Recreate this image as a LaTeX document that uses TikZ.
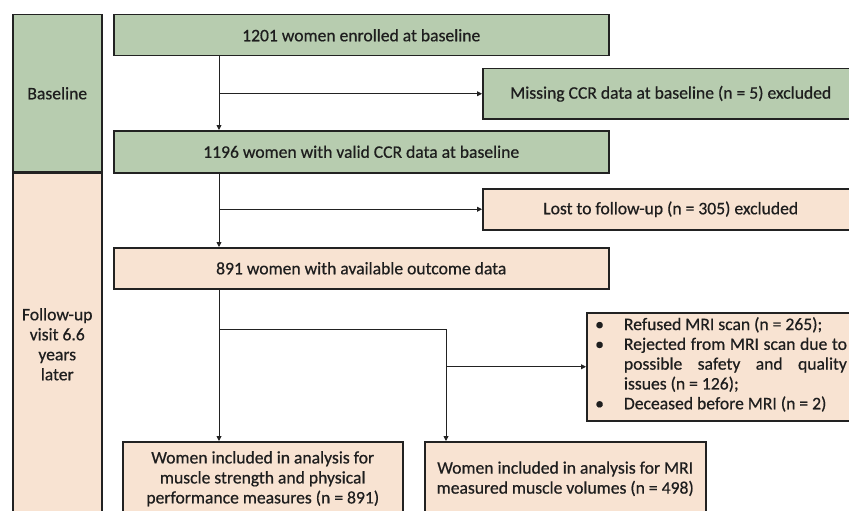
\documentclass[tikz,border=0pt]{standalone}
\usepackage{fontspec}
\setmainfont{Carlito}[FakeBold=0.6]
\usetikzlibrary{arrows.meta}
\definecolor{boxgreen}{HTML}{B7CCAF}
\definecolor{boxpeach}{HTML}{F8E3D2}
\definecolor{edge}{HTML}{222222}
\definecolor{txt}{HTML}{1E1E1E}
\tikzset{
  box/.style={draw=edge, line width=1.5pt, inner sep=0pt, anchor=north west, align=center,
    text=txt, font=\fontsize{17.6}{20}\selectfont},
  gbox/.style={box, fill=boxgreen},
  pbox/.style={box, fill=boxpeach},
  conn/.style={draw=edge, line width=0.9pt},
  arr/.style={conn, -{Triangle[length=5pt,width=5pt]}},
}
\begin{document}
\begin{tikzpicture}[x=1pt,y=-1pt]
\useasboundingbox (0,0) rectangle (849,511);
\clip (0,0) rectangle (849,511);
% left column
\node[gbox, minimum width=89pt, minimum height=157pt] (base) at (12,14) {Baseline};
\node[pbox, minimum width=89pt, minimum height=343pt] (fup) at (12,172) {Follow-up\\visit 6.6\\years\\later};
% main boxes
\node[gbox, minimum width=495pt, minimum height=41pt] (b1) at (113,14) {1201 women enrolled at baseline};
\node[gbox, minimum width=376pt, minimum height=50pt] (ex1) at (482,68) {Missing CCR data at baseline (n = 5) excluded};
\node[gbox, minimum width=495pt, minimum height=42pt] (b2) at (113,130) {1196 women with valid CCR data at baseline};
\node[pbox, minimum width=376pt, minimum height=41pt] (ex2) at (482,188) {Lost to follow-up (n = 305) excluded};
\node[pbox, minimum width=495pt, minimum height=41pt] (b3) at (113,247) {891 women with available outcome data};
\node[pbox, minimum width=280pt, minimum height=74pt] (b4) at (122,441) {Women included in analysis for\\muscle strength and physical\\performance measures (n = 891)};
\node[pbox, minimum width=281pt, minimum height=74pt] (b5) at (424,441) {Women included in analysis for MRI\\measured muscle volumes (n = 498)};
\node[pbox, minimum width=276pt, minimum height=108pt] (ex3) at (586,312) {};
\node[anchor=north west, inner sep=0pt, text=txt, font=\fontsize{17.6}{19.8}\selectfont] (ex3t) at (595,316) {%
  \begin{tabular}{@{}l@{\hspace{20pt}}l@{}}
  \textbullet & Refused MRI scan (n = 265);\\
  \textbullet & \hbox to 223pt{Rejected\hfill from\hfill MRI\hfill scan\hfill due\hfill to}\\
   & \hbox to 223pt{possible\hfill safety\hfill and\hfill quality}\\
   & issues (n = 126);\\
  \textbullet & Deceased before MRI (n = 2)
  \end{tabular}};
% connectors
\coordinate (j1) at (b1.south -| 219,0);
\coordinate (j2) at (b2.south -| 219,0);
\coordinate (j3) at (b3.south -| 219,0);
\draw[arr] (j1) -- (j1 |- b2.north);
\draw[arr] (j1 |- ex1.west) -- (ex1.west);
\draw[arr] (j2) -- (j2 |- b3.north);
\draw[arr] (j2 |- ex2.west) -- (ex2.west);
\draw[arr] (j3) -- (j3 |- b4.north);
\coordinate (k1) at (219,329);
\coordinate (k2) at (446,329);
\draw[conn] (k1) -- (k2);
\draw[arr] (k2) -- (k2 |- b5.north);
\draw[arr] (k2 |- ex3.west) -- (ex3.west);
\end{tikzpicture}
\end{document}
